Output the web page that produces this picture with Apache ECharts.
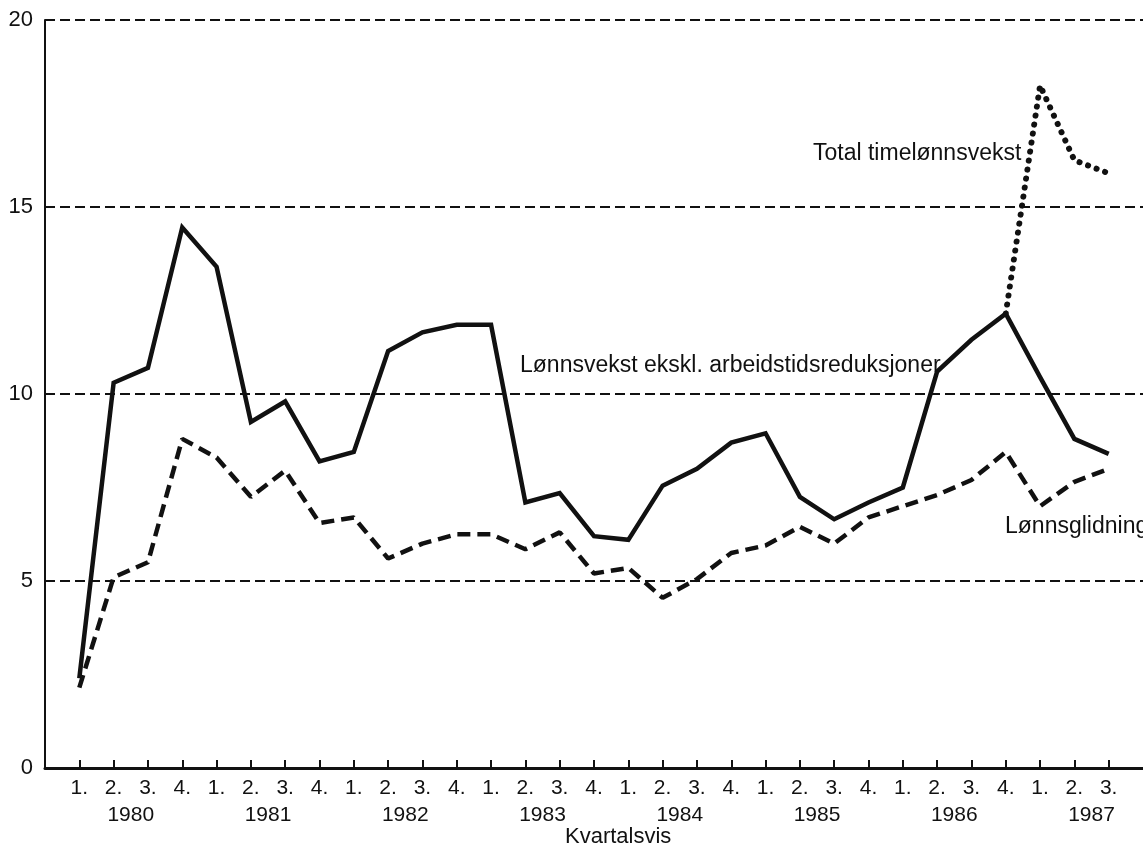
<!DOCTYPE html>
<html>
<head>
<meta charset="utf-8">
<title>Lønnsvekst</title>
<script src="https://cdn.jsdelivr.net/npm/echarts@6/dist/echarts.min.js"></script>
<style>
	html, body { margin: 0; padding: 0; background: #fff; }
	#chart { width: 1143px; height: 848px; }
</style>
</head>
<body>
<div id="chart"></div>
<script>
// kvartaler 1980 1. - 1987 3.
var quarterLabels = ['1.', '2.', '3.', '4.', '1.', '2.', '3.', '4.', '1.', '2.', '3.', '4.',
	'1.', '2.', '3.', '4.', '1.', '2.', '3.', '4.', '1.', '2.', '3.', '4.',
	'1.', '2.', '3.', '4.', '1.', '2.', '3.'];
var yearLabels = ['1980', '1981', '1982', '1983', '1984', '1985', '1986', '1987'];
// plassering av årstall: midt mellom 2. og 3. kvartal
var yearPositions = [1.5, 5.5, 9.5, 13.5, 17.5, 21.5, 25.5, 29.5];
var yTicks = [0, 5, 10, 15, 20];

var lonnsvekstEkskl = [2.4, 10.3, 10.7, 14.45, 13.4, 9.25, 9.8, 8.2, 8.45, 11.15, 11.65, 11.85,
	11.85, 7.1, 7.35, 6.2, 6.1, 7.55, 8.0, 8.7, 8.95, 7.25, 6.65, 7.1,
	7.5, 10.6, 11.45, 12.15, 10.45, 8.8, 8.4];
var lonnsglidning = [2.15, 5.1, 5.5, 8.8, 8.3, 7.25, 7.95, 6.55, 6.7, 5.6, 6.0, 6.25,
	6.25, 5.85, 6.3, 5.2, 5.35, 4.55, 5.05, 5.75, 5.95, 6.45, 6.0, 6.7,
	7.0, 7.3, 7.7, 8.45, 7.0, 7.65, 8.0];
var totalTimelonn = [null, null, null, null, null, null, null, null, null, null, null, null,
	null, null, null, null, null, null, null, null, null, null, null, null,
	null, null, null, 12.15, 18.25, 16.25, 15.9];

var quarterIndex = quarterLabels.map(function (q, i) { return i; });
var toPairs = function (list) {
	return list.map(function (v, i) { return [i, v]; });
};

var font = 'Liberation Sans, Arial, sans-serif';
var ink = '#111';

var chart = echarts.init(document.getElementById('chart'));
var option = {
	backgroundColor: '#fff',
	animation: false,
	grid: { left: 45, right: 0, top: 20, bottom: 80 },
	xAxis: [{
		type: 'value',
		min: -1,
		max: 31,
		axisLine: { show: true, onZero: false, lineStyle: { color: ink, width: 3 } },
		axisTick: { show: true, inside: true, length: 8, customValues: quarterIndex, lineStyle: { color: ink, width: 2 } },
		axisLabel: {
			customValues: quarterIndex,
			margin: 10,
			color: ink, fontSize: 21, fontFamily: font,
			formatter: function (v) { return quarterLabels[v]; }
		},
		splitLine: { show: false }
	}, {
		type: 'value',
		position: 'bottom',
		min: -1,
		max: 31,
		axisLine: { show: false },
		axisTick: { show: false },
		axisLabel: {
			customValues: yearPositions,
			margin: 37,
			color: ink, fontSize: 21, fontFamily: font,
			formatter: function (v) { return yearLabels[yearPositions.indexOf(v)]; }
		},
		splitLine: { show: false }
	}],
	yAxis: {
		type: 'value',
		min: 0,
		max: 20,
		interval: 5,
		axisLine: { show: true, onZero: false, lineStyle: { color: ink, width: 2 } },
		axisTick: { show: false },
		axisLabel: {
			margin: 12,
			color: ink, fontSize: 22, fontFamily: font,
			formatter: function (v) { return yTicks.indexOf(v) >= 0 ? String(v) : ''; }
		},
		splitLine: { show: true, lineStyle: { color: ink, width: 2, type: [10, 5] } }
	},
	series: [{
		name: 'Lønnsvekst ekskl. arbeidstidsreduksjoner',
		type: 'line',
		symbol: 'none',
		data: toPairs(lonnsvekstEkskl),
		lineStyle: { color: ink, width: 4.5, join: 'miter' },
		z: 3
	}, {
		name: 'Lønnsglidning',
		type: 'line',
		symbol: 'none',
		data: toPairs(lonnsglidning),
		lineStyle: { color: ink, width: 4.5, type: [13, 7] },
		z: 3
	}, {
		name: 'Total timelønnsvekst',
		type: 'line',
		symbol: 'none',
		connectNulls: false,
		data: toPairs(totalTimelonn),
		lineStyle: { color: ink, width: 6, type: [0.1, 9], cap: 'round' },
		z: 2
	}],
	graphic: [{
		type: 'text', left: 813, top: 142,
		style: { text: 'Total timelønnsvekst', fill: ink, font: '23px ' + font }
	}, {
		type: 'text', left: 520, top: 354,
		style: { text: 'Lønnsvekst ekskl. arbeidstidsreduksjoner', fill: ink, font: '23px ' + font }
	}, {
		type: 'text', left: 1005, top: 515,
		style: { text: 'Lønnsglidning', fill: ink, font: '23px ' + font }
	}, {
		type: 'text', left: 565, top: 826,
		style: { text: 'Kvartalsvis', fill: ink, font: '22px ' + font }
	}]
};
chart.setOption(option);
</script>
</body>
</html>
